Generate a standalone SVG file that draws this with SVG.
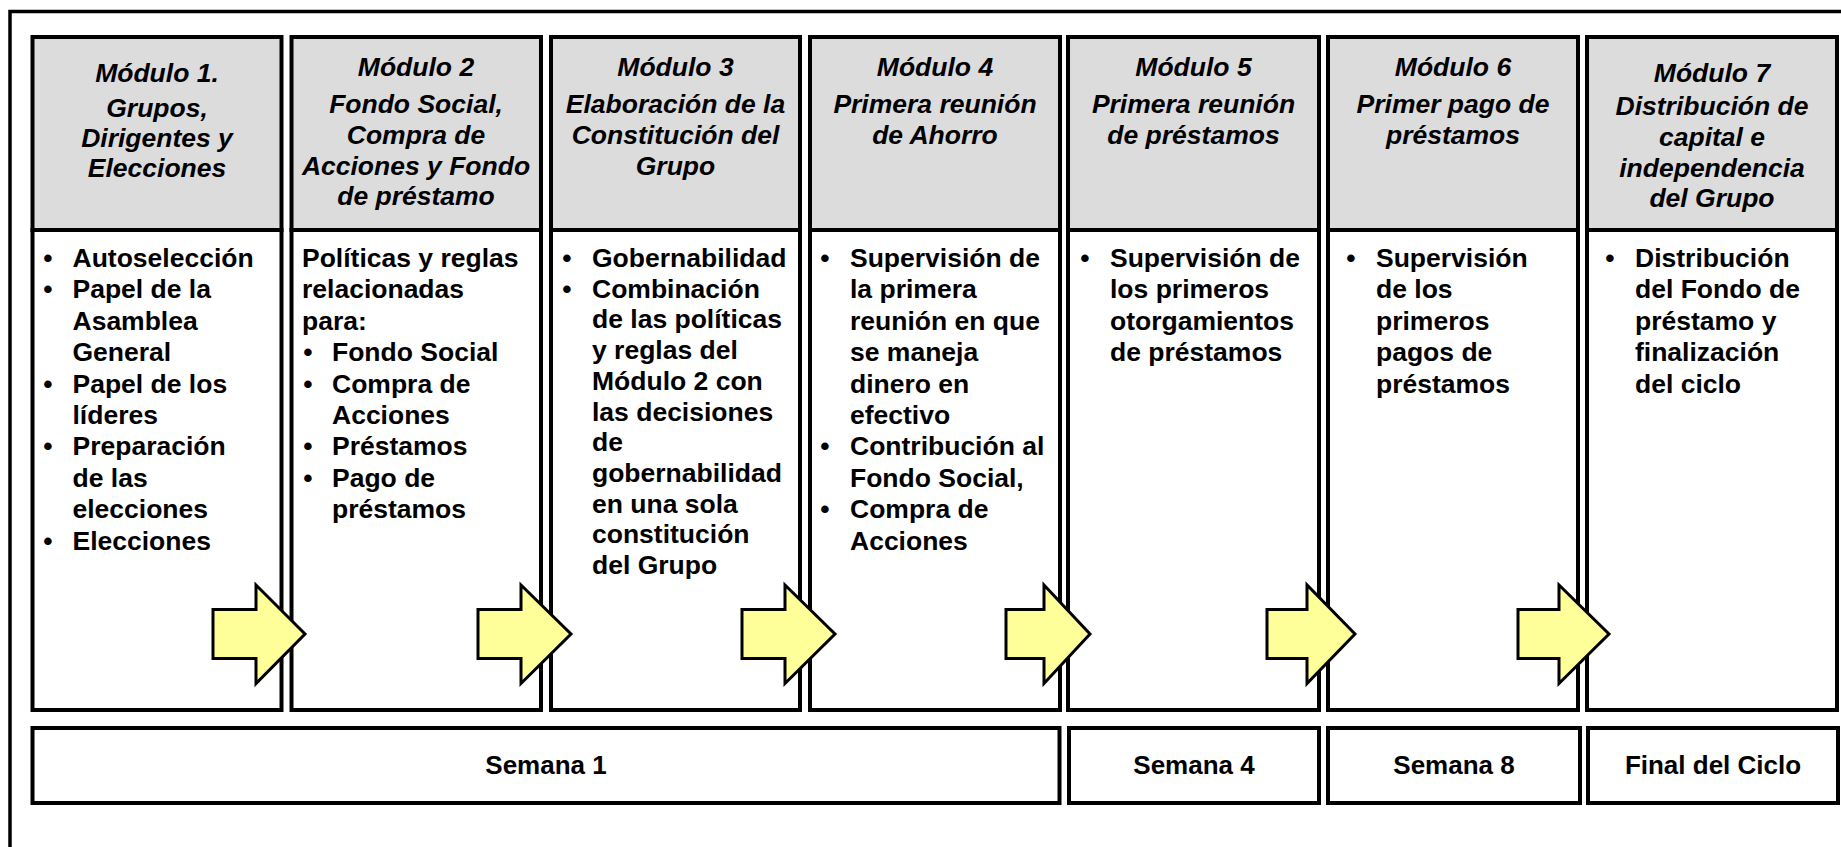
<svg xmlns="http://www.w3.org/2000/svg" width="1841" height="847" viewBox="0 0 1841 847">
<style>
.frame{fill:none;stroke:#000;stroke-width:3.5}
.hdr{fill:#dcdcdc;stroke:#000;stroke-width:4}
.body{fill:#fff;stroke:#000;stroke-width:4}
.wk{fill:#fff;stroke:#000;stroke-width:4}
.arrow{fill:#ffff99;stroke:#000;stroke-width:3;stroke-linejoin:miter}
.h{font-family:"Liberation Sans",Arial,sans-serif;font-size:26.5px;font-weight:bold;font-style:italic;text-anchor:middle;fill:#000}
.t{font-family:"Liberation Sans",Arial,sans-serif;font-size:26.5px;font-weight:bold;fill:#000}
.b{font-family:"Liberation Sans",Arial,sans-serif;font-size:26.5px;font-weight:bold;text-anchor:middle;fill:#000}
.w{font-family:"Liberation Sans",Arial,sans-serif;font-size:26px;font-weight:bold;text-anchor:middle;fill:#000}
</style>
<rect width="1841" height="847" fill="#fff"/>
<rect class="frame" x="10" y="11.5" width="1900" height="900"/>

<g id="modulo1">
<rect class="body" x="32.5" y="230" width="249" height="480"/>
<rect class="hdr" x="32.5" y="37" width="249" height="193"/>
<text class="h" x="157" y="82">Módulo 1.</text>
<text class="h" x="157" y="117">Grupos,</text>
<text class="h" x="157" y="147">Dirigentes y</text>
<text class="h" x="157" y="177">Elecciones</text>
<text class="b"><tspan x="48" y="267">•</tspan><tspan x="48" y="298.4">•</tspan><tspan x="48" y="392.6">•</tspan><tspan x="48" y="455.4">•</tspan><tspan x="48" y="549.6">•</tspan></text>
<text class="t"><tspan x="72.5" y="267">Autoselección</tspan><tspan x="72.5" y="298.4">Papel de la</tspan><tspan x="72.5" y="329.8">Asamblea</tspan><tspan x="72.5" y="361.2">General</tspan><tspan x="72.5" y="392.6">Papel de los</tspan><tspan x="72.5" y="424">líderes</tspan><tspan x="72.5" y="455.4">Preparación</tspan><tspan x="72.5" y="486.8">de las</tspan><tspan x="72.5" y="518.2">elecciones</tspan><tspan x="72.5" y="549.6">Elecciones</tspan></text>
</g>

<g id="modulo2">
<rect class="body" x="291.5" y="230" width="249.5" height="480"/>
<rect class="hdr" x="291.5" y="37" width="249.5" height="193"/>
<text class="h" x="416" y="76">Módulo 2</text>
<text class="h" x="416" y="113">Fondo Social,</text>
<text class="h" x="416" y="144">Compra de</text>
<text class="h" x="416" y="175">Acciones y Fondo</text>
<text class="h" x="416" y="205">de préstamo</text>
<text class="t"><tspan x="302" y="267">Políticas y reglas</tspan><tspan x="302" y="298.4">relacionadas</tspan><tspan x="302" y="329.8">para:</tspan></text>
<text class="b"><tspan x="308" y="361.2">•</tspan><tspan x="308" y="392.6">•</tspan><tspan x="308" y="455.4">•</tspan><tspan x="308" y="486.8">•</tspan></text>
<text class="t"><tspan x="332" y="361.2">Fondo Social</tspan><tspan x="332" y="392.6">Compra de</tspan><tspan x="332" y="424">Acciones</tspan><tspan x="332" y="455.4">Préstamos</tspan><tspan x="332" y="486.8">Pago de</tspan><tspan x="332" y="518.2">préstamos</tspan></text>
</g>

<g id="modulo3">
<rect class="body" x="551" y="230" width="249" height="480"/>
<rect class="hdr" x="551" y="37" width="249" height="193"/>
<text class="h" x="675.5" y="76">Módulo 3</text>
<text class="h" x="675.5" y="113">Elaboración de la</text>
<text class="h" x="675.5" y="144">Constitución del</text>
<text class="h" x="675.5" y="175">Grupo</text>
<text class="b"><tspan x="567" y="267">•</tspan><tspan x="567" y="297.7">•</tspan></text>
<text class="t"><tspan x="592" y="267">Gobernabilidad</tspan><tspan x="592" y="297.7">Combinación</tspan><tspan x="592" y="328.4">de las políticas</tspan><tspan x="592" y="359.1">y reglas del</tspan><tspan x="592" y="389.8">Módulo 2 con</tspan><tspan x="592" y="420.5">las decisiones</tspan><tspan x="592" y="451.2">de</tspan><tspan x="592" y="481.9">gobernabilidad</tspan><tspan x="592" y="512.6">en una sola</tspan><tspan x="592" y="543.3">constitución</tspan><tspan x="592" y="574">del Grupo</tspan></text>
</g>

<g id="modulo4">
<rect class="body" x="810" y="230" width="250" height="480"/>
<rect class="hdr" x="810" y="37" width="250" height="193"/>
<text class="h" x="935" y="76">Módulo 4</text>
<text class="h" x="935" y="113">Primera reunión</text>
<text class="h" x="935" y="144">de Ahorro</text>
<text class="b"><tspan x="825" y="267">•</tspan><tspan x="825" y="455.4">•</tspan><tspan x="825" y="518.2">•</tspan></text>
<text class="t"><tspan x="850" y="267">Supervisión de</tspan><tspan x="850" y="298.4">la primera</tspan><tspan x="850" y="329.8">reunión en que</tspan><tspan x="850" y="361.2">se maneja</tspan><tspan x="850" y="392.6">dinero en</tspan><tspan x="850" y="424">efectivo</tspan><tspan x="850" y="455.4">Contribución al</tspan><tspan x="850" y="486.8">Fondo Social,</tspan><tspan x="850" y="518.2">Compra de</tspan><tspan x="850" y="549.6">Acciones</tspan></text>
</g>

<g id="modulo5">
<rect class="body" x="1068" y="230" width="251" height="480"/>
<rect class="hdr" x="1068" y="37" width="251" height="193"/>
<text class="h" x="1193.5" y="76">Módulo 5</text>
<text class="h" x="1193.5" y="113">Primera reunión</text>
<text class="h" x="1193.5" y="144">de préstamos</text>
<text class="b"><tspan x="1085" y="267">•</tspan></text>
<text class="t"><tspan x="1110" y="267">Supervisión de</tspan><tspan x="1110" y="298.4">los primeros</tspan><tspan x="1110" y="329.8">otorgamientos</tspan><tspan x="1110" y="361.2">de préstamos</tspan></text>
</g>

<g id="modulo6">
<rect class="body" x="1328" y="230" width="250" height="480"/>
<rect class="hdr" x="1328" y="37" width="250" height="193"/>
<text class="h" x="1453" y="76">Módulo 6</text>
<text class="h" x="1453" y="113">Primer pago de</text>
<text class="h" x="1453" y="144">préstamos</text>
<text class="b"><tspan x="1351" y="267">•</tspan></text>
<text class="t"><tspan x="1376" y="267">Supervisión</tspan><tspan x="1376" y="298.4">de los</tspan><tspan x="1376" y="329.8">primeros</tspan><tspan x="1376" y="361.2">pagos de</tspan><tspan x="1376" y="392.6">préstamos</tspan></text>
</g>

<g id="modulo7">
<rect class="body" x="1587" y="230" width="250" height="480"/>
<rect class="hdr" x="1587" y="37" width="250" height="193"/>
<text class="h" x="1712" y="82">Módulo 7</text>
<text class="h" x="1712" y="115">Distribución de</text>
<text class="h" x="1712" y="146">capital e</text>
<text class="h" x="1712" y="177">independencia</text>
<text class="h" x="1712" y="207">del Grupo</text>
<text class="b"><tspan x="1610" y="267">•</tspan></text>
<text class="t"><tspan x="1635" y="267">Distribución</tspan><tspan x="1635" y="298.4">del Fondo de</tspan><tspan x="1635" y="329.8">préstamo y</tspan><tspan x="1635" y="361.2">finalización</tspan><tspan x="1635" y="392.6">del ciclo</tspan></text>
</g>

<g id="semana1">
<rect class="wk" x="32.5" y="728" width="1027" height="75"/>
<text class="w" x="546" y="774">Semana 1</text>
</g>
<g id="semana4">
<rect class="wk" x="1069" y="728" width="250" height="75"/>
<text class="w" x="1194" y="774">Semana 4</text>
</g>
<g id="semana8">
<rect class="wk" x="1328" y="728" width="252" height="75"/>
<text class="w" x="1454" y="774">Semana 8</text>
</g>
<g id="final">
<rect class="wk" x="1588" y="728" width="250" height="75"/>
<text class="w" x="1713" y="774">Final del Ciclo</text>
</g>

<g id="connectors">
<polygon class="arrow" points="213,609.5 256,609.5 256,585 305,634 256,683.5 256,658.5 213,658.5"/>
<polygon class="arrow" points="478,609.5 521,609.5 521,585 571,634 521,683.5 521,658.5 478,658.5"/>
<polygon class="arrow" points="742,609.5 785,609.5 785,585 835,634 785,683.5 785,658.5 742,658.5"/>
<polygon class="arrow" points="1006,609.5 1044,609.5 1044,585 1090,634 1044,683.5 1044,658.5 1006,658.5"/>
<polygon class="arrow" points="1267,609.5 1307,609.5 1307,585 1355,634 1307,683.5 1307,658.5 1267,658.5"/>
<polygon class="arrow" points="1518,609.5 1559,609.5 1559,585 1609,634 1559,683.5 1559,658.5 1518,658.5"/>
</g>
</svg>
